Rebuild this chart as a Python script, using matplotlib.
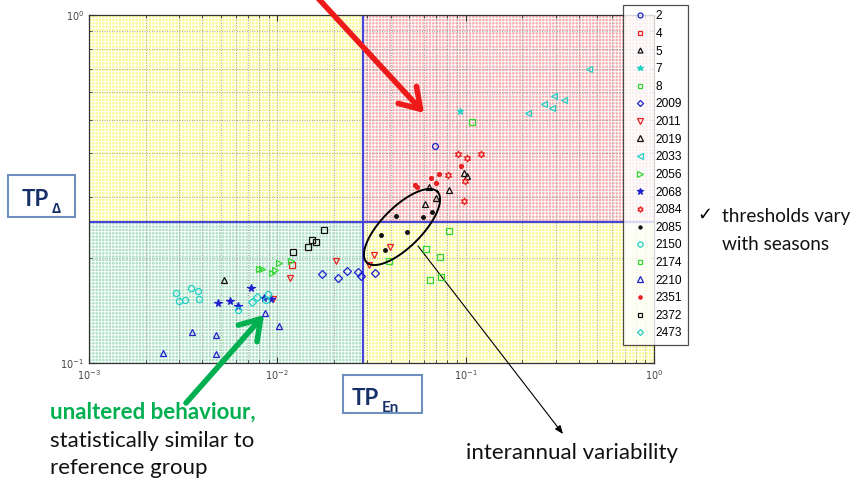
import numpy as np
import matplotlib
matplotlib.use("Agg")
import matplotlib.pyplot as plt
from matplotlib.patches import Rectangle
from matplotlib.lines import Line2D
from matplotlib.ticker import NullFormatter

# ---------------- data ----------------
x_lim = [1e-3, 1e0]
y_lim = [1e-1, 1e0]
x_threshold = 0.0284
y_threshold = 0.254

labels = ["2", "4", "5", "7", "8", "2009", "2011", "2019", "2033", "2056",
          "2068", "2084", "2085", "2150", "2174", "2210", "2351", "2372", "2473"]

x_2 = [0.0684];   y_2 = [0.421]
x_4 = [0.0120];   y_4 = [0.191]
x_5 = [0.00518];  y_5 = [0.173]
x_7 = [0.0937];   y_7 = [0.530]
x_8 = [0.1076];   y_8 = [0.494]
x_2009 = [0.0172, 0.0211, 0.0233, 0.0269, 0.0278, 0.0330]
y_2009 = [0.180, 0.175, 0.184, 0.182, 0.178, 0.181]
x_2011 = [0.0117, 0.0205, 0.00952, 0.0397, 0.0325, 0.0308]
y_2011 = [0.176, 0.197, 0.153, 0.216, 0.204, 0.191]
x_2019 = [0.0979, 0.1016, 0.0812, 0.0635, 0.0692, 0.0610]
y_2019 = [0.352, 0.344, 0.314, 0.320, 0.2985, 0.286]
x_2033 = [0.454, 0.294, 0.334, 0.260, 0.287, 0.215]
y_2033 = [0.700, 0.585, 0.570, 0.555, 0.539, 0.524]
x_2056 = [0.00799, 0.00832, 0.00933, 0.00972, 0.0102, 0.0118]
y_2056 = [0.186, 0.186, 0.181, 0.185, 0.194, 0.197]
x_2068 = [0.00483, 0.00558, 0.00619, 0.00727, 0.00852, 0.00922]
y_2068 = [0.149, 0.151, 0.146, 0.164, 0.154, 0.153]
x_2084 = [0.0910, 0.102, 0.120, 0.0805, 0.0988, 0.0979]
y_2084 = [0.398, 0.389, 0.398, 0.347, 0.333, 0.292]
x_2085 = [0.0356, 0.0487, 0.0375, 0.0427, 0.0592, 0.0665]
y_2085 = [0.233, 0.2375, 0.211, 0.265, 0.262, 0.272]
x_2150 = [0.00288, 0.00299, 0.00325, 0.00348, 0.00379, 0.00386, 0.00615, 0.00867, 0.00895]
y_2150 = [0.1585, 0.151, 0.152, 0.164, 0.161, 0.153, 0.142, 0.152, 0.158]
x_2174 = [0.0815, 0.0617, 0.0733, 0.0643, 0.0742, 0.0390]
y_2174 = [0.239, 0.212, 0.201, 0.173, 0.177, 0.197]
x_2210 = [0.00246, 0.00352, 0.00471, 0.00471, 0.00860, 0.0102]
y_2210 = [0.107, 0.1225, 0.120, 0.106, 0.139, 0.128]
x_2351 = [0.0941, 0.0718, 0.0651, 0.0692, 0.0537, 0.0553]
y_2351 = [0.368, 0.349, 0.341, 0.328, 0.324, 0.321]
x_2372 = [0.0178, 0.0152, 0.0160, 0.0146, 0.0121]
y_2372 = [0.241, 0.226, 0.222, 0.216, 0.208]
x_2473 = [0.00736, 0.00782]
y_2473 = [0.150, 0.1545]

x_tick_values = [1e-3, 1e-2, 1e-1, 1e0]
y_tick_values = [1e-1, 1e0]

# ---------------- style ----------------
BLUE = "#1f1fd0"; RED = "#e82020"; BLACK = "#111111"
CYAN = "#22d0c4"; GREEN = "#33d633"

series = [
    ("2", x_2, y_2, "o", BLUE, False, 4.2),
    ("4", x_4, y_4, "s", RED, False, 4.0),
    ("5", x_5, y_5, "^", BLACK, False, 4.2),
    ("7", x_7, y_7, "*", CYAN, True, 5.0),
    ("8", x_8, y_8, "s", GREEN, False, 4.0),
    ("2009", x_2009, y_2009, "D", BLUE, False, 3.6),
    ("2011", x_2011, y_2011, "v", RED, False, 4.6),
    ("2019", x_2019, y_2019, "^", BLACK, False, 4.6),
    ("2033", x_2033, y_2033, "<", CYAN, False, 4.6),
    ("2056", x_2056, y_2056, ">", GREEN, False, 4.6),
    ("2068", x_2068, y_2068, "*", BLUE, True, 5.5),
    ("2084", x_2084, y_2084, (6, 1, 0), RED, False, 5.0),
    ("2085", x_2085, y_2085, "o", BLACK, True, 2.6),
    ("2150", x_2150, y_2150, "o", CYAN, False, 4.4),
    ("2174", x_2174, y_2174, "s", GREEN, False, 4.0),
    ("2210", x_2210, y_2210, "^", BLUE, False, 4.6),
    ("2351", x_2351, y_2351, "o", RED, True, 2.8),
    ("2372", x_2372, y_2372, "s", BLACK, False, 4.0),
    ("2473", x_2473, y_2473, "D", CYAN, False, 3.6),
]

plt.rcParams["hatch.linewidth"] = 0.7
W, H = 859, 490
fig = plt.figure(figsize=(W / 100, H / 100), dpi=100)
fig.patch.set_facecolor("white")

ax_l, ax_r, ax_t, ax_b = 89, 654, 15, 363
ax = fig.add_axes([ax_l / W, 1 - ax_b / H, (ax_r - ax_l) / W, (ax_b - ax_t) / H])
ax.set_xscale("log"); ax.set_yscale("log")
ax.set_xlim(x_lim); ax.set_ylim(y_lim)

# quadrant backgrounds
quads = [
    (x_lim[0], y_threshold, x_threshold, y_lim[1], "#fafa94"),   # top-left yellow
    (x_threshold, y_threshold, x_lim[1], y_lim[1], "#f4adad"),   # top-right red
    (x_lim[0], y_lim[0], x_threshold, y_threshold, "#a9e0c3"),   # bottom-left green
    (x_threshold, y_lim[0], x_lim[1], y_threshold, "#fafa94"),   # bottom-right yellow
]
for x0, y0, x1, y1, c in quads:
    ax.add_patch(Rectangle((x0, y0), x1 - x0, y1 - y0, facecolor=c,
                           edgecolor="white", hatch="+++++", lw=0, zorder=0.8))

ax.grid(True, which="both", linestyle=(0, (1, 2)), color="#8a8a8a", lw=0.6)
ax.axvline(x_threshold, color="#4646d8", lw=1.6, zorder=2)
ax.axhline(y_threshold, color="#4646d8", lw=1.6, zorder=2)

handles = []
for lab, xs, ys, mk, col, filled, ms in series:
    h, = ax.plot(xs, ys, linestyle="none", marker=mk, markersize=ms,
                 markerfacecolor=col if filled else "none",
                 markeredgecolor=col, markeredgewidth=0.9, label=lab, zorder=4)
    handles.append(h)

ax.set_xticks(x_tick_values); ax.set_yticks(y_tick_values)
ax.xaxis.set_minor_formatter(NullFormatter())
ax.yaxis.set_minor_formatter(NullFormatter())
ax.tick_params(which="both", direction="in", top=True, right=True,
               colors="#333333", labelcolor="#444444", labelsize=7)
ax.tick_params(which="major", length=4)
ax.tick_params(which="minor", length=2)
for sp in ax.spines.values():
    sp.set_color("#333333"); sp.set_linewidth(0.9)

# legend
leg = fig.legend(handles=handles, loc="upper left",
                 bbox_to_anchor=(623 / W, 1 - 5 / H), bbox_transform=fig.transFigure,
                 frameon=True, fancybox=False, edgecolor="#222222",
                 prop={"family": "Liberation Sans", "size": 8.6},
                 handlelength=2.0, handletextpad=0.3, labelspacing=0.47,
                 borderpad=0.45, borderaxespad=0, markerscale=0.85)
leg.get_frame().set_linewidth(0.9)

# ellipse (annotation, figure pixel space)
t = np.linspace(0, 2 * np.pi, 200)
cx, cy, a, b, ang = 402, 227, 50, 20, np.deg2rad(45)
ex = cx + a * np.cos(t) * np.cos(ang) - b * np.sin(t) * np.sin(ang)
ey = cy - a * np.cos(t) * np.sin(ang) - b * np.sin(t) * np.cos(ang)
fig.add_artist(Line2D(ex / W, 1 - ey / H, transform=fig.transFigure,
                      color="black", lw=1.4, zorder=5))

def fp(x, y):
    return (x, H - y)

# arrows
ax.annotate("", xy=fp(424, 113), xytext=fp(316, -4), xycoords="figure pixels",
            textcoords="figure pixels",
            arrowprops=dict(arrowstyle="->,head_length=0.7,head_width=0.45",
                            color="#ee1a1a", lw=4, mutation_scale=20,
                            shrinkA=0, shrinkB=0), annotation_clip=False)
ax.annotate("", xy=fp(264, 315), xytext=fp(186, 403), xycoords="figure pixels",
            textcoords="figure pixels",
            arrowprops=dict(arrowstyle="->,head_length=0.7,head_width=0.45",
                            color="#00b050", lw=4, mutation_scale=20,
                            shrinkA=0, shrinkB=0), annotation_clip=False)
ax.annotate("", xy=fp(563, 434), xytext=fp(418, 246), xycoords="figure pixels",
            textcoords="figure pixels",
            arrowprops=dict(arrowstyle="-|>,head_length=0.5,head_width=0.2",
                            color="black", lw=0.8, mutation_scale=10,
                            shrinkA=0, shrinkB=0), annotation_clip=False)

NAVY = "#17306a"
TF = ["Lato", "DejaVu Sans"]

def box(x0, y0, x1, y1):
    fig.add_artist(Rectangle((x0 / W, 1 - y1 / H), (x1 - x0) / W, (y1 - y0) / H,
                             transform=fig.transFigure, facecolor="white",
                             edgecolor="#6f8fbf", lw=1.5))

box(8, 175, 75, 217)
fig.text(22 / W, 1 - 206 / H, "TP", family=TF, weight="bold", size=16, color=NAVY)
fig.text(52 / W, 1 - 213 / H, "Δ", family=["Open Sans", "DejaVu Sans"], weight="bold",
         size=10, color=NAVY)

box(343, 375, 422, 413)
fig.text(352 / W, 1 - 405 / H, "TP", family=TF, weight="bold", size=16, color=NAVY)
fig.text(382 / W, 1 - 412 / H, "En", family=TF, weight="bold", size=11, color=NAVY)

fig.text(697 / W, 1 - 220 / H, "✓", family=["DejaVu Sans"], size=13, color="black")
fig.text(722 / W, 1 - 222 / H, "thresholds vary", family=TF, size=13.7, color="#111111")
fig.text(722 / W, 1 - 250 / H, "with seasons", family=TF, size=13.7, color="#111111")

fig.text(50 / W, 1 - 419 / H, "unaltered behaviour,", family=TF, weight="bold",
         size=16, color="#00b050")
fig.text(50 / W, 1 - 447 / H, "statistically similar to", family=TF, size=16,
         color="#111111")
fig.text(50 / W, 1 - 474 / H, "reference group", family=TF, size=16, color="#111111")
fig.text(466 / W, 1 - 459 / H, "interannual variability", family=TF, size=16,
         color="#111111")

fig.savefig("out.png", dpi=100)
